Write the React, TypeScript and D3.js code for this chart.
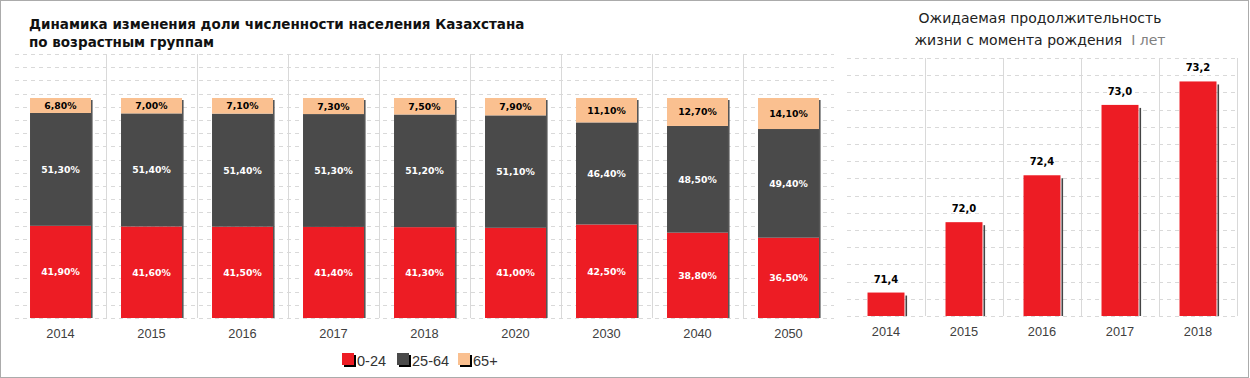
import React from "react";
import * as d3 from "d3";

const years = ["2014", "2015", "2016", "2017", "2018", "2020", "2030", "2040", "2050"];
const young = [41.9, 41.6, 41.5, 41.4, 41.3, 41.0, 42.5, 38.8, 36.5];
const working = [51.3, 51.4, 51.4, 51.3, 51.2, 51.1, 46.4, 48.5, 49.4];
const elderly = [6.8, 7.0, 7.1, 7.3, 7.5, 7.9, 11.1, 12.7, 14.1];
const seriesNames = ["0-24", "25-64", "65+"];
const seriesColors = ["#ED1C24", "#4A4A4A", "#FAC090"];
const labelColors = ["#ffffff", "#ffffff", "#000000"];

const lifeYears = ["2014", "2015", "2016", "2017", "2018"];
const lifeValues = [71.4, 72.0, 72.4, 73.0, 73.2];

const fmtPct = (v: number) => v.toFixed(2).replace(".", ",") + "%";
const fmt1 = (v: number) => v.toFixed(1).replace(".", ",");

const W = 1250;
const H = 378;
const sans = "'DejaVu Sans', Verdana, sans-serif";
const lib = "'Liberation Sans', Arial, sans-serif";

export default function App() {
  // Left chart
  const x = d3.scaleBand<string>().domain(years).range([15, 834]).paddingInner(0.33).paddingOuter(0.165);
  const y = d3.scaleLinear().domain([0, 120]).range([318, 54]);
  const yTicks = d3.range(0, 121, 6);
  const rows = years.map((yr, i) => ({ year: yr, s0: young[i], s1: working[i], s2: elderly[i] }));
  const stack = d3.stack<any>().keys(["s0", "s1", "s2"])(rows);
  const step = x.step();

  // Right chart
  const x2 = d3.scaleBand<string>().domain(lifeYears).range([847, 1237]).paddingInner(0.526).paddingOuter(0.263);
  const y2 = d3.scaleLinear().domain([71.2, 73.4]).range([316, 58]);
  const y2Ticks = d3.range(16).map((i) => 71.2 + (i * 2.2) / 15);
  const step2 = x2.step();

  const legendPos = [342, 397, 458];

  return (
    <svg width={W} height={H} style={{ position: "absolute", left: 0, top: 0, display: "block" }}>
      <rect x={0} y={0} width={W} height={H} fill="#ffffff" />
      <rect x={0.5} y={0.5} width={1248} height={377} fill="none" stroke="#ababab" strokeWidth={1} />

      {/* Left title */}
      <text x={29} y={29} fontFamily={sans} fontWeight="bold" fontSize={13.5} fill="#111">
        Динамика изменения доли численности населения Казахстана
      </text>
      <text x={29} y={47} fontFamily={sans} fontWeight="bold" fontSize={13.5} fill="#111">
        по возрастным группам
      </text>

      {/* Left grid */}
      {yTicks.map((t) => (
        <line key={"lg" + t} x1={15} x2={834} y1={Math.round(y(t)) + 0.5} y2={Math.round(y(t)) + 0.5}
          stroke="#d9d9d9" strokeDasharray="4,4" />
      ))}
      {years.slice(1).map((yr) => {
        const bx = Math.round((x(yr) as number) - (step - x.bandwidth()) / 2) + 0.5;
        return <line key={"lv" + yr} x1={bx} x2={bx} y1={y(120)} y2={y(0)} stroke="#d9d9d9" />;
      })}

      {/* Left bars */}
      {years.map((yr) => {
        const bx = x(yr) as number;
        const bw = x.bandwidth();
        const top = y(100);
        return (
          <rect key={"sh" + yr} x={bx + bw} y={top + 2} width={1.6} height={y(0) - top - 2} fill="#555" />
        );
      })}
      {stack.map((layer, si) =>
        layer.map((d, i) => {
          const bx = x(years[i]) as number;
          return (
            <rect key={"b" + si + "-" + i} x={bx} y={y(d[1])} width={x.bandwidth()} height={y(d[0]) - y(d[1])}
              fill={seriesColors[si]} />
          );
        })
      )}
      {stack.map((layer, si) =>
        layer.map((d, i) => {
          const bx = x(years[i]) as number;
          const v = d[1] - d[0];
          return (
            <text key={"t" + si + "-" + i} x={bx + x.bandwidth() / 2} y={(y(d[0]) + y(d[1])) / 2 + 3.5}
              textAnchor="middle" fontFamily={sans} fontWeight="bold" fontSize={9.3} fill={labelColors[si]}>
              {fmtPct(v)}
            </text>
          );
        })
      )}
      {years.map((yr) => (
        <text key={"xl" + yr} x={(x(yr) as number) + x.bandwidth() / 2} y={338} textAnchor="middle"
          fontFamily={lib} fontSize={12.8} fill="#404040">
          {yr}
        </text>
      ))}

      {/* Legend */}
      {seriesNames.map((n, i) => (
        <g key={"lg" + n}>
          <rect x={legendPos[i] + 2} y={355} width={12} height={12} fill="#000" />
          <rect x={legendPos[i]} y={353} width={12} height={12} fill={seriesColors[i]} />
          <text x={legendPos[i] + 15} y={366} fontFamily={lib} fontSize={14.5} fill="#333">
            {n}
          </text>
        </g>
      ))}

      {/* Right title */}
      <text x={1040} y={23} textAnchor="middle" fontFamily={sans} fontSize={14} fill="#222">
        Ожидаемая продолжительность
      </text>
      <text x={1040} y={45} textAnchor="middle" fontFamily={sans} fontSize={14} fill="#222">
        жизни с момента рождения
        <tspan dx={9} fill="#808080">I лет</tspan>
      </text>

      {/* Right grid */}
      {y2Ticks.map((t, i) => (
        <line key={"rg" + i} x1={847} x2={1237} y1={Math.round(y2(t)) + 0.5} y2={Math.round(y2(t)) + 0.5}
          stroke="#d9d9d9" strokeDasharray="4,4" />
      ))}
      {lifeYears.map((yr) => {
        const bx = Math.round((x2(yr) as number) + x2.bandwidth() + (step2 - x2.bandwidth()) / 2) + 0.5;
        return <line key={"rv" + yr} x1={bx} x2={bx} y1={y2(73.4)} y2={y2(71.2)} stroke="#d9d9d9" />;
      })}

      {/* Right bars */}
      {lifeYears.map((yr, i) => {
        const bx = x2(yr) as number;
        const bw = x2.bandwidth();
        const top = y2(lifeValues[i]);
        return (
          <g key={"rb" + yr}>
            <rect x={bx + bw + 1} y={top + 3} width={1.6} height={y2(71.2) - top - 3} fill="#444" />
            <rect x={bx} y={top} width={bw} height={y2(71.2) - top} fill="#ED1C24" />
            <text x={bx + bw / 2} y={top - 10} textAnchor="middle" fontFamily={sans} fontWeight="bold"
              fontSize={10} fill="#000">
              {fmt1(lifeValues[i])}
            </text>
            <text x={bx + bw / 2} y={336} textAnchor="middle" fontFamily={lib} fontSize={12.8} fill="#404040">
              {yr}
            </text>
          </g>
        );
      })}
    </svg>
  );
}
